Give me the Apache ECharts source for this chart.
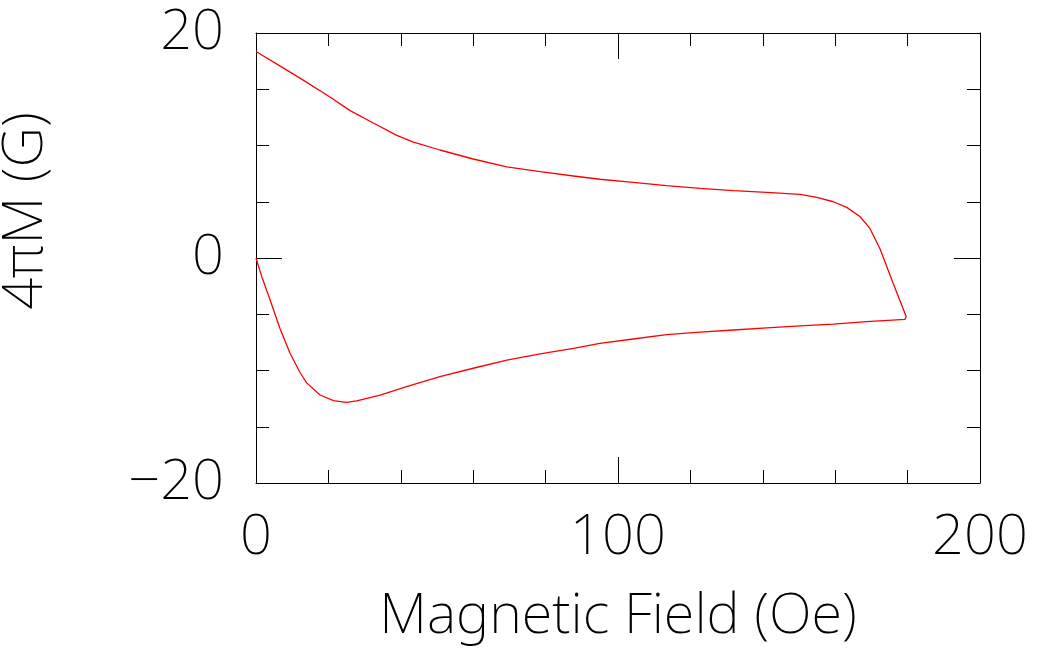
<!DOCTYPE html>
<html>
<head>
<meta charset="utf-8">
<script src="https://cdn.jsdelivr.net/npm/echarts@6/dist/echarts.min.js"></script>
<style>html,body{margin:0;padding:0;background:#fff;}#c{width:1042px;height:654px;}</style>
</head>
<body>
<div id="c"></div>
<script>
// Lower branch (field increasing from 0 to the tip)
var fieldLower = [0, 1.6, 3.9, 6.6, 9.4, 12.2, 14.0, 17.7, 21.4, 25.0, 27.8, 34.3, 41.6, 50.8, 60.0, 69.3, 78.5, 87.7, 95.0, 104.2, 113.4, 122.7, 131.9, 141.1, 150.3, 159.5, 168.7, 179.3];
var momentLower = [0, -1.66, -3.73, -6.25, -8.47, -10.2, -11.1, -12.18, -12.68, -12.83, -12.7, -12.18, -11.44, -10.55, -9.8, -9.07, -8.53, -8.03, -7.59, -7.2, -6.81, -6.58, -6.4, -6.22, -6.04, -5.87, -5.66, -5.45];
// Upper branch (field decreasing from the tip back to 0)
var fieldUpper = [179.6, 176.0, 172.4, 169.6, 166.9, 163.2, 159.5, 154.9, 150.3, 141.1, 131.9, 122.7, 113.4, 104.2, 95.0, 87.7, 78.5, 69.3, 60.0, 50.8, 43.5, 38.9, 32.4, 26.0, 20.0, 12.6, 7.5, 0];
var momentUpper = [-5.2, -2.25, 0.8, 2.63, 3.67, 4.5, 5.0, 5.39, 5.66, 5.84, 5.98, 6.19, 6.43, 6.73, 7.0, 7.29, 7.67, 8.1, 8.8, 9.6, 10.3, 10.9, 12.0, 13.1, 14.4, 15.9, 16.9, 18.35];
var xTicks = [0, 100, 200];
var yTicks = [-20, 0, 20];

var loop = [];
for (var i = 0; i < fieldLower.length; i++) loop.push([fieldLower[i], momentLower[i]]);
for (var j = 0; j < fieldUpper.length; j++) loop.push([fieldUpper[j], momentUpper[j]]);

var txt = {color: '#000', fontFamily: 'Noto Sans', fontWeight: 200, fontSize: 56};
var lineSty = {color: '#000', width: 1};
function minusFmt(v) { return String(v).replace('-', '\u2212'); }

function xAxisCfg(pos, show) {
  return {
    type: 'value', position: pos, min: xTicks[0], max: xTicks[xTicks.length - 1], interval: xTicks[1] - xTicks[0],
    axisLine: {show: true, onZero: false, lineStyle: lineSty},
    axisTick: {show: true, inside: true, length: 26, lineStyle: lineSty},
    minorTick: {show: true, splitNumber: 5, length: 13, lineStyle: lineSty},
    splitLine: {show: false},
    axisLabel: show ? Object.assign({show: true, margin: 27, showMinLabel: true, showMaxLabel: true, formatter: minusFmt}, txt) : {show: false},
    name: show ? 'Magnetic Field (Oe)' : '',
    nameLocation: 'middle', nameGap: 106,
    nameTextStyle: txt
  };
}
function yAxisCfg(pos, show) {
  return {
    type: 'value', position: pos, min: yTicks[0], max: yTicks[yTicks.length - 1], interval: yTicks[1] - yTicks[0],
    axisLine: {show: true, onZero: false, lineStyle: lineSty},
    axisTick: {show: true, inside: true, length: 26, lineStyle: lineSty},
    minorTick: {show: true, splitNumber: 4, length: 13, lineStyle: lineSty},
    splitLine: {show: false},
    axisLabel: show ? Object.assign({show: true, margin: 32, showMinLabel: true, showMaxLabel: true, formatter: minusFmt}, txt) : {show: false},
    name: show ? '4πM (G)' : '',
    nameLocation: 'middle', nameGap: 202,
    nameTextStyle: Object.assign({padding: [0, 0, 0, 94]}, txt)
  };
}

var chart = echarts.init(document.getElementById('c'), null, {renderer: 'canvas'});
chart.setOption({
  animation: false,
  backgroundColor: '#fff',
  grid: {left: 256, right: 62, top: 33, bottom: 171, containLabel: false, outerBoundsMode: 'none'},
  xAxis: [xAxisCfg('bottom', true), xAxisCfg('top', false)],
  yAxis: [yAxisCfg('left', true), yAxisCfg('right', false)],
  series: [{
    type: 'line', xAxisIndex: 0, yAxisIndex: 0,
    data: loop, showSymbol: false, smooth: false,
    lineStyle: {color: '#ff0000', width: 1.3},
    itemStyle: {color: '#ff0000'}
  }]
});
</script>
</body>
</html>
